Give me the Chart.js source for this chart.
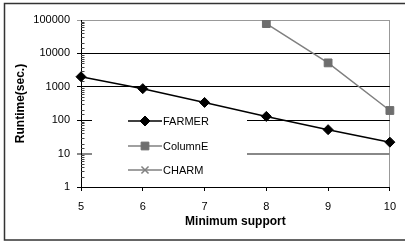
<!DOCTYPE html>
<html><head><meta charset="utf-8">
<style>html,body{margin:0;padding:0;background:#fff}#wrap{width:405px;height:246px}</style>
<script src="https://cdn.jsdelivr.net/npm/chart.js@4"></script>
</head><body><div id="wrap"><canvas id="c" width="405" height="246"></canvas></div>
<script>
const categories = ['5','6','7','8','9','10'];
const farmer = [2000, 880, 340, 130, 52, 22];
const columnE = [null, null, null, 78000, 5200, 195];
const charm = [null, null, null, null, null, null];
const yTicks = [1, 10, 100, 1000, 10000, 100000];
const seriesNames = ['FARMER', 'ColumnE', 'CHARM'];

Chart.defaults.font.family = "'Liberation Sans', Arial, sans-serif";
Chart.defaults.font.size = 11;
Chart.defaults.color = '#000';

const isMajor = v => yTicks.indexOf(v) >= 0;
const gridCol = v => !isMajor(v) ? 'rgba(0,0,0,0)' : (v === 10 ? '#888' : (v === 100000 ? '#999' : '#000'));

const decor = {
  id: 'decor',
  beforeDraw(chart) {
    const ctx = chart.ctx;
    ctx.save();
    ctx.fillStyle = '#fff';
    ctx.fillRect(0, 0, chart.width, chart.height);
    ctx.strokeStyle = '#333';
    ctx.lineWidth = 1.5;
    ctx.strokeRect(4.5, 3.5, 402, 236.5);
    ctx.restore();
  },
  beforeDatasetsDraw(chart) {
    const ctx = chart.ctx;
    const y = chart.scales.y;
    const left = chart.chartArea.left;
    ctx.save();
    ctx.strokeStyle = '#444';
    ctx.lineWidth = 1;
    y.ticks.forEach(t => {
      if (!isMajor(t.value)) {
        const py = Math.round(y.getPixelForValue(t.value)) + 0.5;
        ctx.beginPath(); ctx.moveTo(left, py); ctx.lineTo(left + 3.5, py); ctx.stroke();
      }
    });
    ctx.fillStyle = '#fff';
    ctx.fillRect(92, 109, 155, 72);
    const rows = [121, 146, 170];
    chart.data.datasets.forEach((ds, i) => {
      const yy = rows[i];
      ctx.strokeStyle = ds.borderColor;
      ctx.lineWidth = ds.borderWidth;
      ctx.beginPath(); ctx.moveTo(128, yy); ctx.lineTo(162, yy); ctx.stroke();
      ctx.fillStyle = ds.pointBackgroundColor;
      ctx.strokeStyle = ds.pointBorderColor;
      ctx.lineWidth = ds.pointBorderWidth || 1;
      Chart.helpers.drawPoint(ctx, {
        pointStyle: ds.pointStyle, radius: ds.pointRadius, rotation: 0,
        borderWidth: ds.pointBorderWidth || 1
      }, 145, yy);
      ctx.fillStyle = '#000';
      ctx.font = "11px 'Liberation Sans', Arial, sans-serif";
      ctx.textBaseline = 'middle';
      ctx.textAlign = 'left';
      ctx.fillText(ds.label, 163, yy + 0.5);
    });
    ctx.restore();
  }
};

new Chart(document.getElementById('c'), {
  type: 'line',
  data: {
    labels: categories,
    datasets: [
      { label: seriesNames[0], data: farmer, borderColor: '#000', borderWidth: 1.5,
        pointStyle: 'rectRot', pointRadius: 5, pointBackgroundColor: '#000', pointBorderColor: '#000', pointBorderWidth: 1 },
      { label: seriesNames[1], data: columnE, borderColor: '#808080', borderWidth: 1.5,
        pointStyle: 'rect', pointRadius: 5.5, pointBackgroundColor: '#6e6e6e', pointBorderColor: '#6e6e6e', pointBorderWidth: 1 },
      { label: seriesNames[2], data: charm, borderColor: '#808080', borderWidth: 1.5,
        pointStyle: 'crossRot', pointRadius: 5, pointBackgroundColor: '#808080', pointBorderColor: '#808080', pointBorderWidth: 1.5 }
    ]
  },
  options: {
    responsive: false,
    animation: false,
    devicePixelRatio: 1,
    layout: { padding: { left: 0, right: 12, top: 20, bottom: 0 } },
    plugins: { legend: { display: false }, tooltip: { enabled: false } },
    elements: { line: { tension: 0 } },
    scales: {
      x: {
        type: 'category',
        offset: false,
        border: { color: '#000', width: 1 },
        grid: {
          drawOnChartArea: true, drawTicks: true, tickLength: 4,
          color: c => c.index === categories.length - 1 ? '#999' : 'rgba(0,0,0,0)',
          tickColor: '#000'
        },
        ticks: { padding: 9, maxRotation: 0, font: { size: 11 } },
        title: { display: true, text: 'Minimum support', font: { size: 12, weight: 'bold' }, padding: { top: 0, bottom: 17 } },
        afterFit: s => { s.height = 59; }
      },
      y: {
        type: 'logarithmic',
        min: 1, max: 100000,
        border: { color: '#000', width: 1 },
        grid: {
          color: c => gridCol(c.tick.value),
          lineWidth: c => c.tick.value === 10 ? 2 : 1,
          tickColor: c => gridCol(c.tick.value),
          tickLength: 4
        },
        ticks: {
          autoSkip: false, padding: 7, font: { size: 11 },
          callback: v => isMajor(v) ? String(v) : ''
        },
        title: { display: true, text: 'Runtime(sec.)', font: { size: 12, weight: 'bold' }, padding: { top: 13, bottom: 0 } },
        afterFit: s => { s.width = 81; }
      }
    }
  },
  plugins: [decor]
});
</script></body></html>
